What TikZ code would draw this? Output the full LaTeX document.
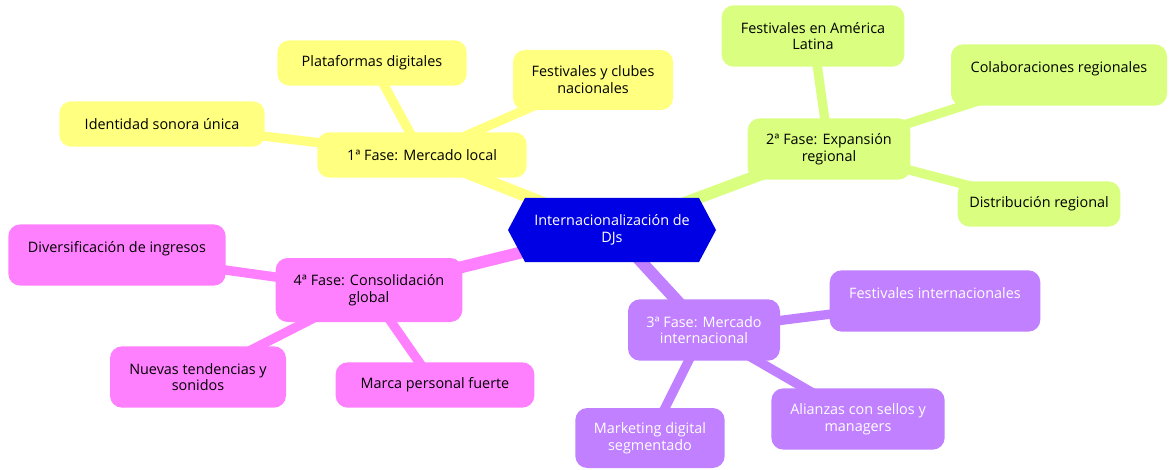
\documentclass[tikz,border=0pt]{standalone}
\usepackage{fontspec}
\setmainfont{Open Sans}
\usetikzlibrary{shapes.symbols,backgrounds}
\definecolor{hub}{RGB}{0,0,228}
\definecolor{yel}{RGB}{255,255,128}
\definecolor{grn}{RGB}{218,255,128}
\definecolor{pur}{RGB}{192,128,255}
\definecolor{pnk}{RGB}{255,128,255}
\begin{document}
\begin{tikzpicture}[x=0.75pt,y=-0.75pt,
  every node/.style={font=\fontsize{10.8}{12.6}\selectfont, align=center},
  box/.style={rounded corners=9pt, inner sep=2pt},
  hubshape/.style={signal, signal to=west and east, signal pointer angle=124, fill=hub, text=white, inner sep=2pt},
  trunk/.style={line width=9pt},
  twig/.style={line width=7pt}]
\useasboundingbox (0,0) rectangle (1169,470);
\node[hubshape, minimum width=156pt, minimum height=48pt] (c) at (612,230) {Internacionalización de\\DJs};
% 1st phase
\node[box, fill=yel, minimum width=157pt, minimum height=34pt] (f1) at (422,155) {1ª Fase: Mercado local};
\node[box, fill=yel, minimum width=142pt, minimum height=34pt] (f1a) at (372,63) {Plataformas digitales};
\node[box, fill=yel, minimum width=120pt, minimum height=45pt] (f1b) at (593,80) {Festivales y clubes\\nacionales};
\node[box, fill=yel, minimum width=154pt, minimum height=34pt] (f1c) at (162,124) {Identidad sonora única};
% 2nd phase
\node[box, fill=grn, minimum width=122pt, minimum height=46pt] (f2) at (829,149) {2ª Fase: Expansión\\regional};
\node[box, fill=grn, minimum width=137pt, minimum height=46pt] (f2a) at (813,36) {Festivales en América\\Latina};
\node[box, fill=grn, minimum width=162pt, minimum height=46pt] (f2b) at (1059,75) {Colaboraciones regionales\\~};
\node[box, fill=grn, minimum width=122pt, minimum height=34pt] (f2c) at (1039,204) {Distribución regional};
% 3rd phase
\node[box, fill=pur, text=white, minimum width=114pt, minimum height=46pt] (f3) at (704,330) {3ª Fase: Mercado\\internacional};
\node[box, fill=pur, text=white, minimum width=158pt, minimum height=46pt] (f3a) at (935,301) {Festivales internacionales\\~};
\node[box, fill=pur, text=white, minimum width=130pt, minimum height=46pt] (f3b) at (858,419) {Alianzas con sellos y\\managers};
\node[box, fill=pur, text=white, minimum width=112pt, minimum height=45pt] (f3c) at (650,438) {Marketing digital\\segmentado};
% 4th phase
\node[box, fill=pnk, minimum width=140pt, minimum height=48pt] (f4) at (369,290) {4ª Fase: Consolidación\\global};
\node[box, fill=pnk, minimum width=163pt, minimum height=46pt] (f4a) at (117,255) {Diversificación de ingresos\\~};
\node[box, fill=pnk, minimum width=132pt, minimum height=46pt] (f4b) at (198,377) {Nuevas tendencias y\\sonidos};
\node[box, fill=pnk, minimum width=149pt, minimum height=34pt] (f4c) at (435,385) {Marca personal fuerte};

\begin{scope}[on background layer]
\path[draw=yel,trunk] (c.center) -- (f1.center);
\path[draw=grn,trunk] (c.center) -- (f2.center);
\path[draw=pur,trunk] (c.center) -- (f3.center);
\path[draw=pnk,trunk] (c.center) -- (f4.center);
\path[draw=yel,twig] (f1.center) -- (f1a.center);
\path[draw=yel,twig] (f1.center) -- (f1b.center);
\path[draw=yel,twig] (f1.center) -- (f1c.center);
\path[draw=grn,twig] (f2.center) -- (f2a.center);
\path[draw=grn,twig] (f2.center) -- (f2b.center);
\path[draw=grn,twig] (f2.center) -- (f2c.center);
\path[draw=pur,twig] (f3.center) -- (f3a.center);
\path[draw=pur,twig] (f3.center) -- (f3b.center);
\path[draw=pur,twig] (f3.center) -- (f3c.center);
\path[draw=pnk,twig] (f4.center) -- (f4a.center);
\path[draw=pnk,twig] (f4.center) -- (f4b.center);
\path[draw=pnk,twig] (f4.center) -- (f4c.center);
\end{scope}
\end{tikzpicture}
\end{document}
